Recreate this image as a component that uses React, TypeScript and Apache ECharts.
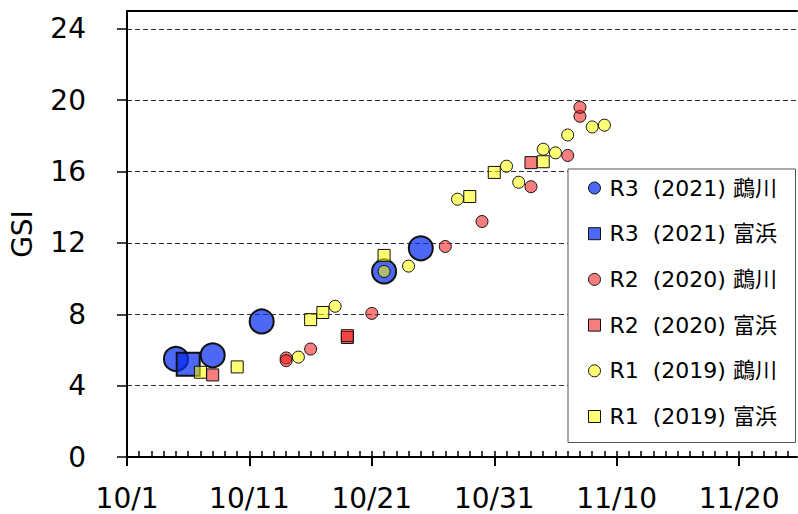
import React, { useEffect, useRef } from "react";
import * as echarts from "echarts";

// ---- data (dates as month/day, GSI values) ----
const r3MukawaDates = ["10/5", "10/8", "10/12", "10/22", "10/25"];
const r3MukawaGSI = [5.5, 5.7, 7.6, 10.4, 11.7];

const r3TomihamaDates = ["10/6"];
const r3TomihamaGSI = [5.2];

const r2MukawaDates = ["10/14", "10/14", "10/16", "10/21", "10/27", "10/30", "11/3", "11/6", "11/7", "11/7"];
const r2MukawaGSI = [5.55, 5.4, 6.05, 8.05, 11.8, 13.2, 15.15, 16.9, 19.1, 19.6];

const r2TomihamaDates = ["10/8", "10/19", "10/19", "11/3"];
const r2TomihamaGSI = [4.6, 6.7, 6.8, 16.5];

const r1MukawaDates = ["10/15", "10/18", "10/22", "10/24", "10/28", "11/1", "11/2", "11/4", "11/5", "11/6", "11/8", "11/9"];
const r1MukawaGSI = [5.6, 8.45, 10.4, 10.7, 14.45, 16.3, 15.4, 17.25, 17.05, 18.05, 18.5, 18.6];

const r1TomihamaDates = ["10/7", "10/10", "10/16", "10/17", "10/22", "10/29", "10/31", "11/4"];
const r1TomihamaGSI = [4.75, 5.05, 7.7, 8.1, 11.3, 14.6, 15.95, 16.55];

const seriesNames = [
  "R3\u00a0\u00a0(2021) 鵡川",
  "R3\u00a0\u00a0(2021) 富浜",
  "R2\u00a0\u00a0(2020) 鵡川",
  "R2\u00a0\u00a0(2020) 富浜",
  "R1\u00a0\u00a0(2019) 鵡川",
  "R1\u00a0\u00a0(2019) 富浜",
];
const seriesIcons = ["circle", "rect", "circle", "rect", "circle", "rect"];

const xTickLabels = ["10/1", "10/11", "10/21", "10/31", "11/10", "11/20"];
const yTickValues = [0, 4, 8, 12, 16, 20, 24];

// day offset from 10/1
function dayOffset(md: string): number {
  const [m, d] = md.split("/").map(Number);
  return m === 10 ? d - 1 : 31 + d - 1;
}

function pts(dates: string[], vals: number[]) {
  return dates.map((d, i) => [dayOffset(d), vals[i]]);
}

const FONT = "'DejaVu Sans', 'Noto Sans CJK JP', sans-serif";

export default function App() {
  const ref = useRef<HTMLDivElement>(null);

  useEffect(() => {
    if (!ref.current) return;
    const chart = echarts.init(ref.current, undefined, { renderer: "svg" });

    const X_MAX = 54.73;
    const majorTicks = xTickLabels.map(dayOffset);
    const minorTicks: number[] = [];
    for (let i = 0; i <= 54; i++) minorTicks.push(i);

    const blue = "rgba(0,40,240,0.7)";
    const red = "rgba(240,20,20,0.55)";
    const yellow = "rgba(255,255,0,0.55)";

    const mk = (name: string, data: number[][], symbol: string, color: string, size: number, bw: number) => ({
      name,
      type: "scatter",
      symbol,
      symbolSize: size,
      data,
      itemStyle: { color, borderColor: "#111", borderWidth: bw, opacity: 1 },
      emphasis: { disabled: true },
    });

    chart.setOption({
      animation: false,
      textStyle: { fontFamily: FONT },
      grid: { left: 126, top: 11, right: 1, bottom: 57, containLabel: false },
      xAxis: [
        {
          type: "value",
          position: "bottom",
          min: 0,
          max: X_MAX,
          axisLine: { show: true, onZero: false, lineStyle: { color: "#000", width: 2 } },
          axisTick: { show: true, inside: false, length: 9, customValues: majorTicks, lineStyle: { color: "#000", width: 2 } },
          axisLabel: {
            show: true,
            customValues: majorTicks,
            formatter: (v: number) => xTickLabels[majorTicks.indexOf(Math.round(v))] ?? "",
            fontSize: 28,
            color: "#000",
            fontFamily: FONT,
            margin: 27,
          },
          splitLine: { show: false },
        },
        {
          type: "value",
          position: "bottom",
          min: 0,
          max: X_MAX,
          axisLine: { show: false, onZero: false },
          axisTick: { show: true, inside: true, length: 6, customValues: minorTicks, lineStyle: { color: "#000", width: 1.5 } },
          axisLabel: { show: false },
          splitLine: { show: false },
        },
        {
          type: "value",
          position: "top",
          min: 0,
          max: X_MAX,
          axisLine: { show: true, onZero: false, lineStyle: { color: "#000", width: 2 } },
          axisTick: { show: false },
          axisLabel: { show: false },
          splitLine: { show: false },
        },
      ],
      yAxis: {
        type: "value",
        min: 0,
        max: 25,
        name: "GSI",
        nameLocation: "middle",
        nameGap: 91,
        nameTextStyle: { fontSize: 28, color: "#000", fontFamily: FONT },
        axisLine: { show: true, onZero: false, lineStyle: { color: "#000", width: 2 } },
        axisTick: { show: true, inside: false, length: 10, customValues: yTickValues, lineStyle: { color: "#000", width: 1.5 } },
        axisLabel: { show: true, customValues: yTickValues, fontSize: 28, color: "#000", fontFamily: FONT, margin: 41 },
        splitLine: { show: true, lineStyle: { color: "#333", width: 1, type: [5, 3] } },
      },
      legend: {
        orient: "vertical",
        left: 568,
        top: 169,
        data: seriesNames.map((n, i) => ({ name: n, icon: seriesIcons[i] })),
        backgroundColor: "#fff",
        borderColor: "#555",
        borderWidth: 1,
        borderRadius: 0,
        padding: [7, 12, 14, 20],
        itemWidth: 12,
        itemHeight: 12,
        symbolKeepAspect: true,
        itemGap: 21.7,
        itemStyle: { borderWidth: 1, borderColor: "#111" },
        textStyle: {
          fontSize: 22,
          color: "#000",
          fontFamily: FONT,
          lineHeight: 24,
          width: 174,
          padding: [0, 0, 0, 4],
        },
        selectedMode: false,
      },
      series: [
        mk(seriesNames[0], pts(r3MukawaDates, r3MukawaGSI), "circle", blue, 24, 2),
        mk(seriesNames[1], pts(r3TomihamaDates, r3TomihamaGSI), "rect", blue, 23, 2),
        mk(seriesNames[2], pts(r2MukawaDates, r2MukawaGSI), "circle", red, 12, 1),
        mk(seriesNames[3], pts(r2TomihamaDates, r2TomihamaGSI), "rect", red, 12, 1),
        mk(seriesNames[4], pts(r1MukawaDates, r1MukawaGSI), "circle", yellow, 12, 1),
        mk(seriesNames[5], pts(r1TomihamaDates, r1TomihamaGSI), "rect", yellow, 12, 1),
      ],
    });

    return () => chart.dispose();
  }, []);

  return (
    <div
      ref={ref}
      style={{ position: "fixed", left: 0, top: 0, width: 798, height: 514, background: "#fff" }}
    />
  );
}
